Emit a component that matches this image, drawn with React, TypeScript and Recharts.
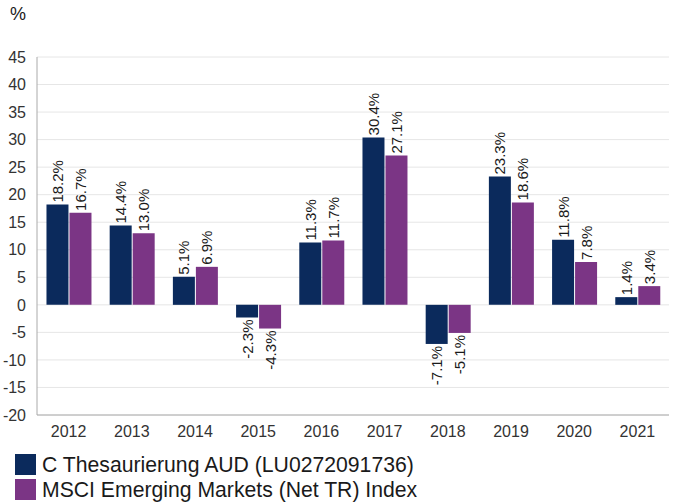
import { BarChart, Bar, XAxis, YAxis, CartesianGrid, Legend, LabelList } from 'recharts';

const years = ['2012', '2013', '2014', '2015', '2016', '2017', '2018', '2019', '2020', '2021'];
const fund = [18.2, 14.4, 5.1, -2.3, 11.3, 30.4, -7.1, 23.3, 11.8, 1.4];
const index = [16.7, 13.0, 6.9, -4.3, 11.7, 27.1, -5.1, 18.6, 7.8, 3.4];
const yTicks = [-20, -15, -10, -5, 0, 5, 10, 15, 20, 25, 30, 35, 40, 45];

const fundName = 'C Thesaurierung AUD (LU0272091736)';
const indexName = 'MSCI Emerging Markets (Net TR) Index';
const navy = '#0b2a5c';
const purple = '#7b3585';

const data = years.map((y, i) => ({ year: y, fund: fund[i], index: index[i] }));

const font = 'Liberation Sans, Arial, sans-serif';

function ValueLabel(props: any) {
  const { x, y, width, height, value } = props;
  const cx = Number(x) + Number(width) / 2;
  const top = Math.min(Number(y), Number(y) + Number(height));
  const bottom = Math.max(Number(y), Number(y) + Number(height));
  const neg = Number(value) < 0;
  const ay = neg ? bottom + 2 : top - 2;
  return (
    <text
      x={cx}
      y={ay}
      transform={`rotate(-90 ${cx} ${ay})`}
      textAnchor={neg ? 'end' : 'start'}
      dominantBaseline="central"
      fontSize={15}
      fontFamily={font}
      fill="#1a1a1a"
    >
      {Number(value).toFixed(1)}%
    </text>
  );
}

function LegendBox() {
  const items = [
    { name: fundName, color: navy },
    { name: indexName, color: purple },
  ];
  return (
    <div style={{ paddingLeft: 14, paddingTop: 7 }}>
      {items.map(it => (
        <div key={it.name} style={{ display: 'flex', alignItems: 'center', height: 25 }}>
          <span style={{ width: 21, height: 21, background: it.color, display: 'inline-block', marginRight: 6 }} />
          <span style={{ fontSize: 21.2, fontFamily: font, color: '#1a1a1a', whiteSpace: 'nowrap' }}>{it.name}</span>
        </div>
      ))}
    </div>
  );
}

export default function App() {
  return (
    <div style={{ position: 'absolute', left: 0, top: 0, width: 673, height: 504, background: '#fff' }}>
      <div style={{ position: 'absolute', left: 10, top: 4, fontSize: 18, fontFamily: font, color: '#1a1a1a' }}>%</div>
      <BarChart
        width={673}
        height={504}
        data={data}
        margin={{ top: 57, right: 4, left: 1, bottom: 0 }}
        barCategoryGap="15%"
        barGap={1}
      >
        <CartesianGrid vertical={false} stroke="#e6e6e6" />
        <XAxis
          dataKey="year"
          tick={{ fontSize: 16, fill: '#333', fontFamily: font }}
          tickLine={false}
          axisLine={{ stroke: '#aaa' }}
          height={30}
          tickMargin={5}
        />
        <YAxis
          domain={[-20, 45]}
          ticks={yTicks}
          interval={0}
          tick={{ fontSize: 16, fill: '#333', fontFamily: font }}
          tickLine={false}
          axisLine={{ stroke: '#aaa' }}
          width={36}
          tickMargin={5}
        />
        <Legend verticalAlign="bottom" height={59} content={() => <LegendBox />} />
        <Bar dataKey="fund" name={fundName} fill={navy} isAnimationActive={false}>
          <LabelList dataKey="fund" content={ValueLabel} />
        </Bar>
        <Bar dataKey="index" name={indexName} fill={purple} isAnimationActive={false}>
          <LabelList dataKey="index" content={ValueLabel} />
        </Bar>
      </BarChart>
    </div>
  );
}
